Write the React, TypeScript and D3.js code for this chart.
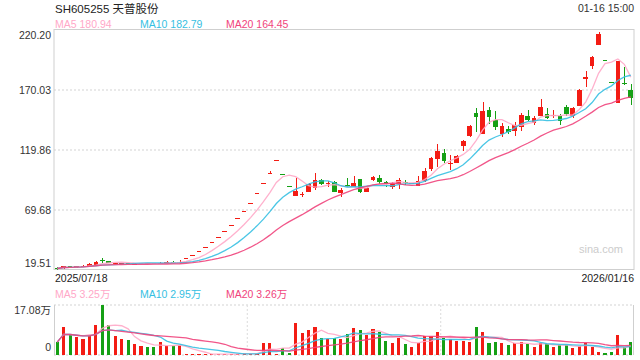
import React from 'react';
import * as d3 from 'd3';

const stockTitle = 'SH605255 天普股份';
const timeStamp = '01-16 15:00';
const xLabels = ['2025/07/18', '2026/01/16'];
const priceTicks = [19.51, 69.68, 119.86, 170.03, 220.2];
const volTicks = [0, 17.08];
const volUnit = '万';
const maNames = ['MA5', 'MA10', 'MA20'];
const maPeriods = [5, 10, 20];
const priceMaLegend = ['180.94', '182.79', '164.45'];
const volMaLegend = ['3.25', '2.95', '3.26'];
const watermark = 'sina.com';

const opens = [
  21.35, 21.6, 22.69, 22.02, 22.19, 23.11, 23.94, 27.9, 26.62, 24.9,
  25.0, 25.2, 24.4, 24.6, 25.1, 25.3, 25.0, 25.9, 26.6, 26.2,
  29.26, 32.19, 35.41, 38.95, 42.85, 47.14, 51.85, 57.04, 62.74, 69.01,
  75.91, 83.5, 91.85, 101.04, 111.14, 100.03, 90.03, 81.03, 82.48, 84.98,
  88.33, 94.52, 92.01, 93.1, 83.65, 90.34, 88.5, 95.6, 84.98, 94.77,
  96.27, 92.93, 89.17, 91.26, 92.85, 91.76, 89.75, 94.35, 104.38, 112.33,
  117.6, 107.9, 109.24, 123.2, 131.81, 151.04, 132.98, 153.3, 144.94, 133.4,
  137.42, 135.33, 139.09, 148.29, 142.43, 148.29, 149.96, 148.54, 148.29, 155.56,
  147.87, 156.82, 179.48, 190.26, 208.07, 195.5, 176.3, 159.4, 175.6, 170.0,
];
const closes = [
  20.76, 22.44, 22.02, 22.6, 23.02, 24.53, 26.2, 27.3, 25.78, 25.36,
  25.36, 24.8, 24.8, 24.95, 24.8, 25.0, 25.5, 26.4, 26.2, 26.6,
  29.26, 32.19, 35.41, 38.95, 42.85, 47.14, 51.85, 57.04, 62.74, 69.01,
  75.91, 83.5, 91.85, 101.04, 111.14, 100.03, 90.03, 85.57, 83.06, 91.17,
  94.52, 91.42, 92.51, 84.98, 86.41, 89.59, 92.01, 85.15, 88.08, 97.11,
  93.1, 91.59, 91.42, 94.77, 92.09, 92.09, 93.93, 102.46, 113.17, 119.02,
  110.91, 108.73, 114.84, 127.38, 139.92, 147.7, 152.47, 147.7, 138.67, 139.76,
  134.49, 140.76, 149.12, 144.94, 146.36, 155.81, 147.03, 149.37, 144.1, 149.96,
  154.98, 170.03, 180.49, 197.45, 216.85, 195.5, 176.3, 193.9, 175.05, 163.1,
];
const highs = [
  21.77, 23.27, 23.02, 23.27, 23.69, 24.95, 27.04, 29.29, 27.04, 25.53,
  25.53, 25.4, 25.0, 25.2, 25.3, 25.5, 25.9, 27.2, 27.1, 27.5,
  29.26, 32.19, 35.41, 38.95, 42.85, 47.14, 51.85, 57.04, 62.74, 69.01,
  75.91, 83.5, 91.85, 102.5, 111.14, 100.03, 90.03, 96.2, 84.73, 92.51,
  100.37, 95.35, 94.18, 93.93, 87.83, 96.19, 98.11, 95.6, 88.5, 98.28,
  98.95, 94.35, 93.35, 96.44, 94.77, 92.6, 98.11, 104.55, 114.25, 124.87,
  120.69, 115.67, 115.93, 128.22, 140.76, 154.72, 159.74, 155.56, 152.05, 142.43,
  139.92, 143.27, 150.79, 153.72, 147.87, 162.5, 154.72, 153.72, 149.96, 157.23,
  156.23, 171.28, 185.67, 198.62, 218.11, 195.5, 176.3, 194.5, 189.0, 174.8,
];
const lows = [
  19.51, 20.76, 21.6, 21.35, 21.77, 22.85, 23.69, 25.61, 25.36, 24.7,
  24.8, 24.6, 24.2, 24.4, 24.6, 24.9, 24.9, 25.6, 25.9, 25.9,
  29.26, 32.19, 35.41, 38.95, 42.85, 47.14, 51.85, 57.04, 62.74, 69.01,
  75.91, 83.5, 91.85, 101.04, 111.14, 100.03, 90.03, 81.03, 80.8, 84.98,
  86.41, 90.59, 88.68, 84.98, 80.8, 89.17, 88.5, 83.65, 84.98, 94.35,
  91.26, 88.92, 86.83, 87.66, 90.17, 91.26, 89.75, 93.1, 102.3, 105.89,
  109.24, 103.13, 108.73, 119.27, 130.48, 135.16, 132.98, 141.6, 136.58, 130.48,
  132.98, 131.56, 135.74, 144.52, 141.01, 147.87, 145.78, 146.62, 141.01, 148.54,
  146.62, 156.4, 172.54, 187.17, 208.07, 195.5, 176.3, 159.4, 174.6, 157.5,
];
const volumes = [
  4.4, 9.7, 6.9, 6.0, 5.6, 6.5, 10.4, 17.08, 10.4, 6.6,
  5.5, 5.1, 3.8, 3.1, 2.7, 2.7, 4.4, 3.2, 3.2, 3.5,
  0.3, 0.3, 0.3, 0.3, 0.3, 0.3, 0.3, 0.4, 0.4, 0.8,
  0.4, 0.4, 4.2, 4.2, 0.5, 2.3, 0.6, 11.0, 7.6, 8.5,
  9.7, 5.7, 5.5, 5.7, 5.5, 7.2, 9.2, 8.5, 6.8, 8.9,
  7.9, 4.8, 4.1, 5.9, 3.8, 2.8, 4.2, 6.5, 6.5, 7.9,
  5.9, 5.4, 4.8, 4.8, 4.4, 9.7, 7.9, 4.1, 4.4, 4.0,
  3.5, 4.0, 4.4, 3.8, 2.7, 4.2, 3.8, 2.7, 3.3, 3.5,
  2.4, 3.0, 4.2, 2.7, 1.0, 0.6, 1.0, 6.9, 2.6, 4.5,
];

const W = 640, H = 360;
const L = 54, R = 634;
const PT = 30, PB = 270;
const VT = 305, VB = 355;
const UP = '#f31c14';
const DOWN = '#15a015';
const MA_COLORS = ['#ffa8c8', '#36c0e2', '#f0447c'];
const FONT = "'Liberation Sans', Arial, 'Noto Sans CJK SC', sans-serif";
const GRID = '#e2e2e2';
const BORDER = '#cfcfcf';

function movingAvg(arr: number[], p: number): number[] {
  return arr.map((_, i) => d3.mean(arr.slice(Math.max(0, i - p + 1), i + 1)) as number);
}

export default function App() {
  const n = closes.length;
  const idx = d3.range(n);
  const x = d3.scaleBand<number>().domain(idx).range([L, R]).padding(0);
  const bw = x.bandwidth();
  const cx = (i: number) => (x(i) as number) + bw / 2;
  const y = d3.scaleLinear().domain([priceTicks[0], priceTicks[priceTicks.length - 1]]).range([PB, PT]);
  const yv = d3.scaleLinear().domain([volTicks[0], volTicks[1]]).range([VB, VT]);
  const isUp = (i: number) =>
    closes[i] > opens[i] || (closes[i] === opens[i] && (i === 0 || closes[i] >= closes[i - 1]));

  const priceLine = d3.line<number>().x((_, i) => cx(i)).y((v) => y(v));
  const volLine = d3.line<number>().x((_, i) => cx(i)).y((v) => yv(v));
  const priceMAs = maPeriods.map((p) => movingAvg(closes, p));
  const volMAs = maPeriods.map((p) => movingAvg(volumes, p));

  const bodyW = 4.6;
  const volW = 3.2;
  const legendX = [55, 140, 226];
  const thirds = [1, 2].map((k) => L + ((R - L) * k) / 3);

  return (
    <svg width={W} height={H} style={{ position: 'absolute', left: 0, top: 0, background: '#fff' }} fontFamily={FONT}>
      {/* header */}
      <text x={55} y={12.5} fontSize={11.5} fill="#222">{stockTitle}</text>
      <text x={R} y={11.8} fontSize={10.5} fill="#333" textAnchor="end">{timeStamp}</text>
      {maNames.map((m, k) => (
        <text key={m} x={legendX[k]} y={28.2} fontSize={10.5} fill={MA_COLORS[k]}>{`${m} ${priceMaLegend[k]}`}</text>
      ))}

      {/* price grid */}
      {priceTicks.slice(1, -1).map((t) => (
        <line key={t} x1={L} x2={R} y1={y(t)} y2={y(t)} stroke={GRID} strokeWidth={1.6} strokeDasharray="2,2" />
      ))}
      <rect x={L} y={PT - 0.5} width={R - L} height={PB - PT} fill="none" stroke={BORDER} strokeWidth={1} />

      {/* price tick labels */}
      {priceTicks.map((t, k) => {
        const yy = k === 0 ? y(t) - 3 : k === priceTicks.length - 1 ? y(t) + 8.5 : y(t) + 3.8;
        return (
          <text key={t} x={51} y={yy} fontSize={10.5} fill="#333" textAnchor="end">{t.toFixed(2)}</text>
        );
      })}

      {/* watermark */}
      <text x={623} y={253} fontSize={11} fill="#cccccc" textAnchor="end">{watermark}</text>

      {/* candles */}
      <g shapeRendering="crispEdges">
        {idx.map((i) => {
          const c = isUp(i) ? UP : DOWN;
          const top = y(Math.max(opens[i], closes[i]));
          const bot = y(Math.min(opens[i], closes[i]));
          const h = Math.max(1, bot - top);
          return (
            <g key={i}>
              <line x1={Math.round(cx(i)) + 0.5} x2={Math.round(cx(i)) + 0.5} y1={y(highs[i])} y2={y(lows[i])} stroke={c} strokeWidth={1} />
              <rect x={cx(i) - bodyW / 2} y={top} width={bodyW} height={h} fill={c} />
            </g>
          );
        })}
      </g>

      {/* price MAs */}
      {priceMAs.map((arr, k) => (
        <path key={k} d={priceLine(arr) as string} fill="none" stroke={MA_COLORS[k]} strokeWidth={1.3} strokeOpacity={0.9} />
      ))}

      {/* x labels */}
      <text x={55} y={281.8} fontSize={10.5} fill="#222">{xLabels[0]}</text>
      <text x={R} y={281.8} fontSize={10.5} fill="#222" textAnchor="end">{xLabels[1]}</text>

      {/* volume legend */}
      {maNames.map((m, k) => (
        <text key={m} x={legendX[k]} y={298.3} fontSize={10.5} fill={MA_COLORS[k]}>{`${m} ${volMaLegend[k]}${volUnit}`}</text>
      ))}

      {/* volume panel */}
      <line x1={L} x2={R} y1={VT} y2={VT} stroke={GRID} strokeWidth={1.6} strokeDasharray="2,2" />
      <line x1={L} x2={R} y1={VB} y2={VB} stroke={GRID} strokeWidth={1.6} strokeDasharray="2,2" />
      {thirds.map((tx) => (
        <line key={tx} x1={tx} x2={tx} y1={VT} y2={VB} stroke={GRID} strokeWidth={1.2} strokeDasharray="2,2" />
      ))}
      <line x1={L + 0.5} x2={L + 0.5} y1={VT} y2={VB} stroke={BORDER} />
      <line x1={R - 0.5} x2={R - 0.5} y1={VT} y2={VB} stroke={BORDER} />
      <text x={51} y={314} fontSize={10.5} fill="#333" textAnchor="end">{`${volTicks[1].toFixed(2)}${volUnit}`}</text>
      <text x={51} y={351} fontSize={10.5} fill="#333" textAnchor="end">{String(volTicks[0])}</text>

      <g shapeRendering="crispEdges">
        {idx.map((i) => (
          <rect key={i} x={cx(i) - volW / 2} y={yv(volumes[i])} width={volW} height={Math.max(0.6, VB - yv(volumes[i]))} fill={isUp(i) ? UP : DOWN} />
        ))}
      </g>
      {volMAs.map((arr, k) => (
        <path key={k} d={volLine(arr) as string} fill="none" stroke={MA_COLORS[k]} strokeWidth={1.3} strokeOpacity={0.9} />
      ))}
    </svg>
  );
}
